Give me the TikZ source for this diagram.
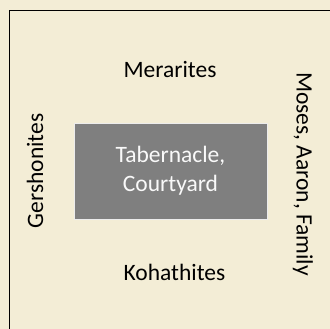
\documentclass[tikz,border=0pt]{standalone}
\usepackage{fontspec}
\setmainfont{Carlito}
\usepackage{tikz}

\definecolor{parchment}{HTML}{F3EDD6}
\definecolor{campgray}{HTML}{7F7F7F}

\begin{document}
\begin{tikzpicture}[x=1pt,y=1pt,
  tribe/.style={font=\fontsize{23.5}{29}\selectfont,text=black,inner sep=0pt},
  court/.style={fill=campgray,draw=white!85!gray,line width=0.8pt,
    minimum width=193pt,minimum height=96pt,align=center,text=white!95!gray,
    font=\fontsize{23.5}{29}\selectfont}]
\fill[parchment] (0,0) rectangle (330,329);
\useasboundingbox (0,0) rectangle (330,329);
\draw[line width=1.2pt] (9.5,0) |- (330,318.5);
\node[court] (tab) at (170.5,158){Tabernacle,\\Courtyard};
\node[tribe] (mer) at (170,259){Merarites};
\node[tribe] (koh) at (174.5,57){Kohathites};
\node[tribe,rotate=90] (ger) at (35,158){Gershonites};
\node[tribe,rotate=-90] (mos) at (303,155){Moses, Aaron, Family};
\end{tikzpicture}
\end{document}
